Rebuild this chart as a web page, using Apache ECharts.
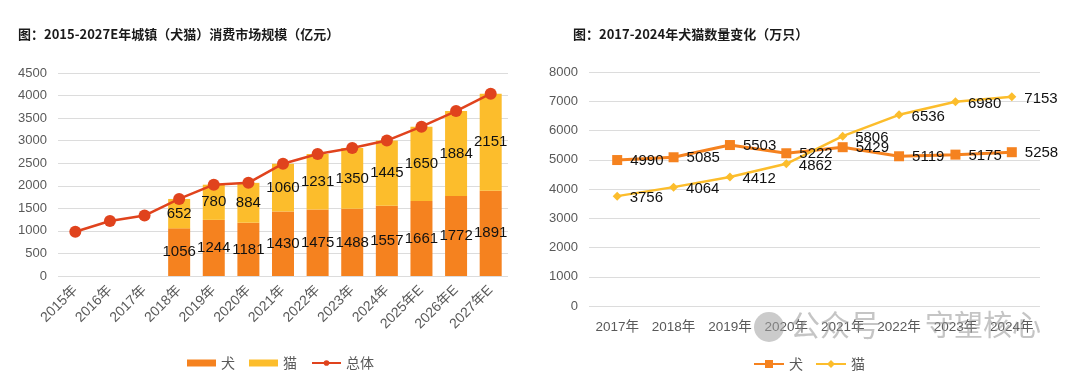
<!DOCTYPE html>
<html><head><meta charset="utf-8">
<script src="https://cdn.jsdelivr.net/npm/echarts@6/dist/echarts.min.js"></script>
<style>
html,body{margin:0;padding:0;background:#fff;}
#wrap{position:relative;width:1080px;height:371px;}
#c1{position:absolute;left:0;top:0;width:540px;height:371px;}
#c2{position:absolute;left:540px;top:0;width:540px;height:371px;}
</style></head><body>
<div id="wrap"><div id="c1"></div><div id="c2"></div></div>
<script>
// Left chart data
const marketYears = ['2015年','2016年','2017年','2018年','2019年','2020年','2021年','2022年','2023年','2024年','2025年E','2026年E','2027年E'];
const marketDog = [null,null,null,1056,1244,1181,1430,1475,1488,1557,1661,1772,1891];
const marketCat = [null,null,null,652,780,884,1060,1231,1350,1445,1650,1884,2151];
const marketTotal = [980,1220,1340,1708,2024,2065,2490,2706,2838,3002,3311,3656,4042];
// Right chart data
const popYears = ['2017年','2018年','2019年','2020年','2021年','2022年','2023年','2024年'];
const popDog = [4990,5085,5503,5222,5429,5119,5175,5258];
const popCat = [3756,4064,4412,4862,5806,6536,6980,7153];

const C_DOG = '#F5821F', C_CAT = '#FCBD2C', C_TOTAL = '#E0431D';
const AX = '#595959', GRID = '#DCDCDC';
const FONT = 'Arial, "Liberation Sans", "Noto Sans CJK SC", sans-serif';
const TFONT = '"Noto Sans CJK SC", sans-serif';
const plain = v => String(v);

const c1 = echarts.init(document.getElementById('c1'), null, {renderer:'canvas'});
c1.setOption({
  animation:false,
  textStyle:{fontFamily:FONT},
  title:{text:'图：2015-2027E年城镇（犬猫）消费市场规模（亿元）',left:13,top:23,
    textStyle:{fontSize:13,fontWeight:'bold',color:'#1a1a1a',fontFamily:TFONT}},
  legend:{left:182,top:351,itemGap:14,itemWidth:29,itemHeight:7,
    textStyle:{fontSize:14,color:AX,fontFamily:TFONT},
    data:[{name:'犬',icon:'rect'},{name:'猫',icon:'rect'},{name:'总体'}]},
  grid:{left:58,right:32,top:73,bottom:95},
  xAxis:{type:'category',data:marketYears,
    axisLine:{show:false},axisTick:{show:false},
    axisLabel:{rotate:45,color:AX,fontSize:14,margin:12,interval:0,fontFamily:FONT}},
  yAxis:{type:'value',min:0,max:4500,interval:500,
    axisLine:{show:false},axisTick:{show:false},
    axisLabel:{color:AX,fontSize:13,margin:11,fontFamily:FONT,formatter:plain},
    splitLine:{lineStyle:{color:GRID,width:1}}},
  series:[
    {name:'犬',type:'bar',stack:'a',data:marketDog,barWidth:22,itemStyle:{color:C_DOG},
      label:{show:true,position:'inside',color:'#111',fontSize:15,fontFamily:FONT}},
    {name:'猫',type:'bar',stack:'a',data:marketCat,barWidth:22,itemStyle:{color:C_CAT},
      label:{show:true,position:'inside',color:'#111',fontSize:15,fontFamily:FONT}},
    {name:'总体',type:'line',data:marketTotal,symbol:'circle',symbolSize:12,
      lineStyle:{color:C_TOTAL,width:2.5},itemStyle:{color:C_TOTAL},z:5}
  ]
});

const c2 = echarts.init(document.getElementById('c2'), null, {renderer:'canvas'});
c2.setOption({
  animation:false,
  textStyle:{fontFamily:FONT},
  title:{text:'图：2017-2024年犬猫数量变化（万只）',left:28,top:23,
    textStyle:{fontSize:13,fontWeight:'bold',color:'#1a1a1a',fontFamily:TFONT}},
  legend:{left:208,top:352,itemGap:12,itemWidth:30,itemHeight:10,
    textStyle:{fontSize:14,color:AX,fontFamily:TFONT},
    data:['犬','猫']},
  grid:{left:49,right:40,top:72,bottom:65},
  xAxis:{type:'category',data:popYears,
    axisLine:{show:false},axisTick:{show:false},
    axisLabel:{color:AX,fontSize:13.5,margin:15,interval:0,fontFamily:FONT}},
  yAxis:{type:'value',min:0,max:8000,interval:1000,
    axisLine:{show:false},axisTick:{show:false},
    axisLabel:{color:AX,fontSize:13,margin:11,fontFamily:FONT,formatter:plain},
    splitLine:{lineStyle:{color:GRID,width:1}}},
  series:[
    {name:'犬',type:'line',data:popDog,symbol:'rect',symbolSize:10,
      lineStyle:{color:C_DOG,width:3},itemStyle:{color:C_DOG},
      label:{show:true,position:'right',distance:8,offset:[0,1],color:'#111',fontSize:15,fontFamily:FONT}},
    {name:'猫',type:'line',data:popCat,symbol:'diamond',symbolSize:9,
      lineStyle:{color:C_CAT,width:2.5},itemStyle:{color:C_CAT},
      label:{show:true,position:'right',distance:8,offset:[0,2],color:'#111',fontSize:15,fontFamily:FONT}}
  ],
  graphic:[
    {type:'circle',shape:{cx:229,cy:327,r:15},style:{fill:'rgba(160,160,160,0.55)'},z:100},
    {type:'text',left:250,top:310,style:{text:'公众号',fontSize:30,fill:'rgba(150,150,150,0.55)',fontFamily:TFONT},z:100},
    {type:'text',left:385,top:310,style:{text:'守望核心',fontSize:29,fill:'rgba(150,150,150,0.55)',fontFamily:TFONT},z:100}
  ]
});
</script>
</body></html>
